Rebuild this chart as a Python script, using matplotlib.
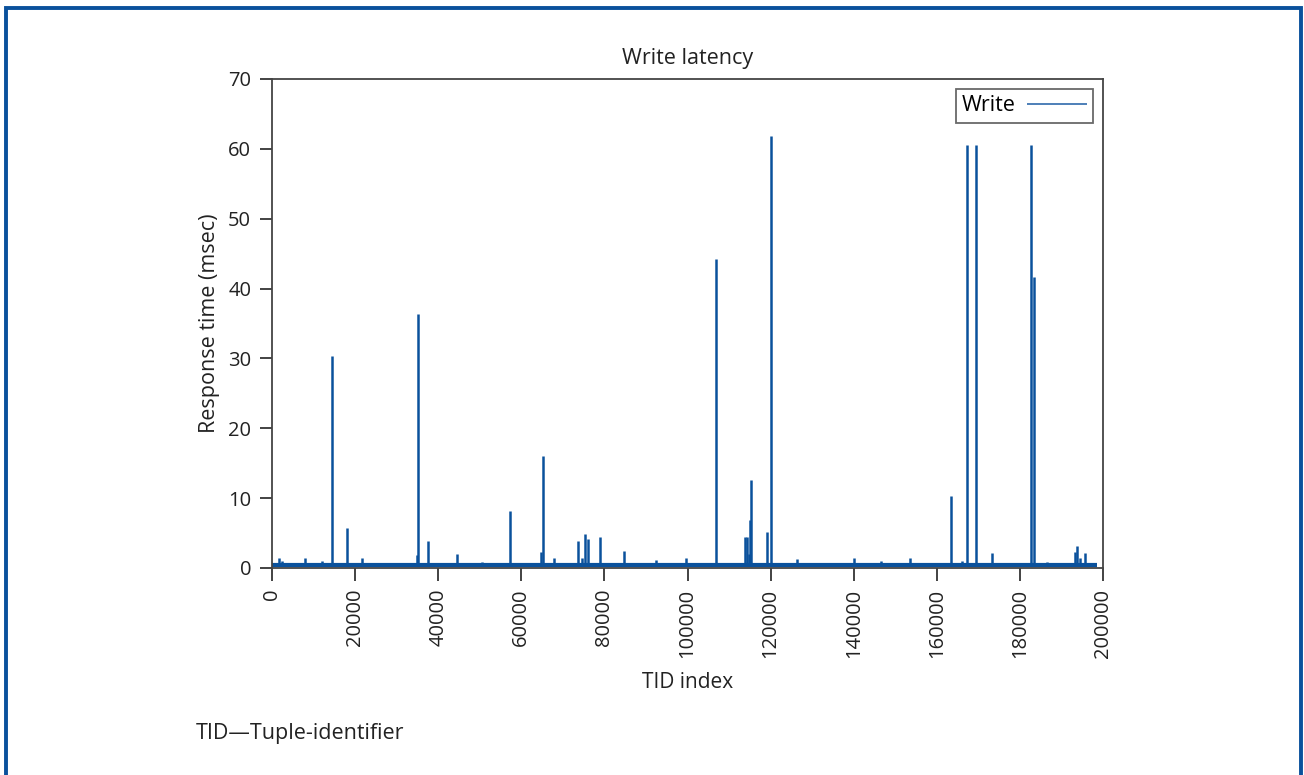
import numpy as np
import matplotlib.pyplot as plt
from matplotlib.patches import Rectangle

plt.rcParams['font.family'] = ['Open Sans', 'DejaVu Sans']

# Write latency spikes (TID index, response time in msec)
spike_tid = [1700, 2300, 8000, 12000, 14500, 18000, 21700, 35000, 35200,
             37500, 44500, 50500, 57300, 64800, 65200, 67800, 73600, 74600,
             75300, 76000, 79000, 84700, 92500, 99600, 106800, 113800,
             114300, 114700, 115000, 115300, 119100, 120100, 126300, 140000,
             146500, 153500, 163400, 166000, 167200, 169400, 173200, 182600,
             183300, 186500, 193200, 193800, 194400, 195600]
spike_ms = [1.5, 1.0, 1.4, 1.0, 30.4, 5.7, 1.5, 1.8, 36.3,
            3.8, 2.0, 0.9, 8.2, 2.3, 16.0, 1.4, 3.8, 1.5,
            4.8, 4.2, 4.4, 2.4, 1.1, 1.4, 44.3, 4.5,
            4.5, 2.0, 6.8, 12.6, 5.2, 61.8, 1.3, 1.4,
            1.0, 1.5, 10.3, 1.0, 60.5, 60.6, 2.1, 60.6,
            41.6, 0.9, 2.3, 3.1, 1.4, 2.2]

baseline_ms = 0.5
tid_start, tid_end = 0, 198500

blue = '#0a519c'
ink = '#222222'

fig = plt.figure(figsize=(13.04, 7.75), dpi=100)
ax = fig.add_axes([0.2086, 0.2671, 0.6373, 0.631])

ax.hlines(baseline_ms, tid_start, tid_end, color=blue, linewidth=3.0)
ax.vlines(spike_tid, baseline_ms, spike_ms, color=blue, linewidth=1.8,
          label='Write')

ax.set_xlim(0, 200000)
ax.set_ylim(0, 70)
ax.set_xticks(np.arange(0, 200001, 20000))
ax.set_yticks(np.arange(0, 71, 10))
ax.tick_params(axis='x', rotation=90)
ax.tick_params(direction='out', length=9, width=1.2, colors=ink,
               labelsize=14.5, pad=6)
for s in ax.spines.values():
    s.set_color('#444444')
    s.set_linewidth(1.3)

ax.set_title('Write latency', fontsize=15.5, color=ink, pad=11)
ax.set_xlabel('TID index', fontsize=15, color=ink, labelpad=10)
ax.set_ylabel('Response time (msec)', fontsize=15.5, color=ink,
              labelpad=6)

leg = ax.legend(loc='upper right', markerfirst=False, fancybox=False,
                edgecolor='#444444', fontsize=15.5, handlelength=2.8,
                borderaxespad=0.45, borderpad=0.3, handletextpad=0.5)
leg.get_frame().set_linewidth(1.3)
leg.legend_handles[0].set_linewidth(1.2)
leg.legend_handles[0].set_color('#2f6aab')

fig.text(196 / 1304, 1 - 733 / 775, 'TID\u2014Tuple-identifier',
         fontsize=15.5, color=ink, va='center')

# blue frame around the whole exhibit
fig.add_artist(Rectangle((6 / 1304, -0.05), 1295 / 1304, 1.05 - 8 / 775,
                         transform=fig.transFigure, fill=False,
                         edgecolor=blue, linewidth=2.8, clip_on=False))

plt.savefig('out.png', dpi=100)
